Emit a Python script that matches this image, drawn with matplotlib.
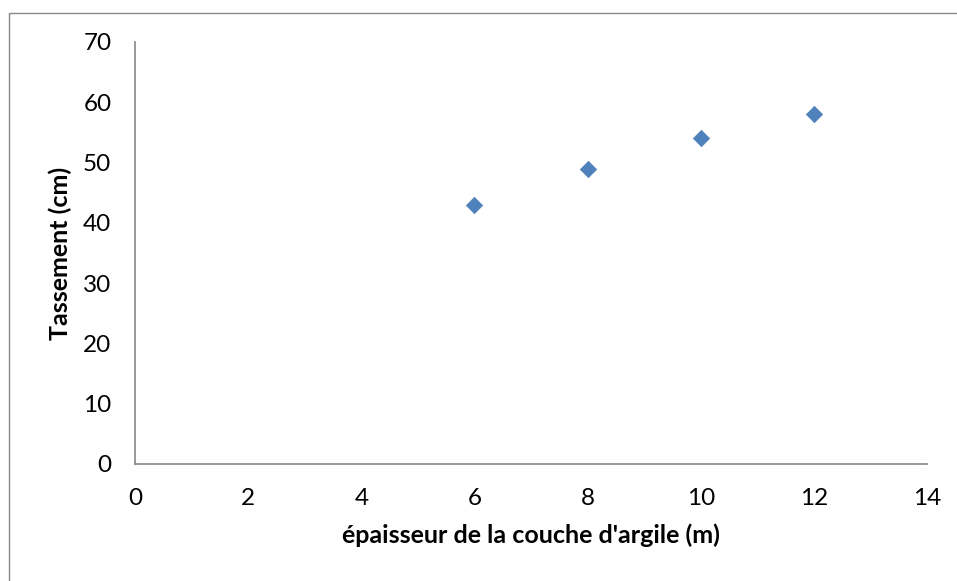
import matplotlib
matplotlib.use("Agg")
import matplotlib.pyplot as plt
from matplotlib.patches import Rectangle

epaisseur = [6, 8, 10, 12]
tassement = [43, 49, 54, 58]
x_ticks = [0, 2, 4, 6, 8, 10, 12, 14]
y_ticks = [0, 10, 20, 30, 40, 50, 60, 70]

plt.rcParams['font.family'] = ['Lato', 'DejaVu Sans']

fig = plt.figure(figsize=(9.57, 5.81), dpi=100)
fig.patches.append(Rectangle((9/957, -0.1), 1.2, (581-13)/581 + 0.1, transform=fig.transFigure,
                             fill=False, edgecolor='#888888', linewidth=1.0))
ax = fig.add_axes([135/957, (581-464)/581, (927-135)/957, (464-42)/581])
ax.scatter(epaisseur, tassement, marker='D', s=70, color='#4F81BD', edgecolors='#4F81BD', linewidths=0.5, zorder=3)
ax.set_xlim(0, 14)
ax.set_ylim(0, 70)
ax.set_xticks(x_ticks)
ax.set_yticks(y_ticks)
ax.tick_params(length=0, labelsize=17.5)
ax.tick_params(axis='x', pad=17)
ax.tick_params(axis='y', pad=17)
for s in ['top', 'right']:
    ax.spines[s].set_visible(False)
for s in ['left', 'bottom']:
    ax.spines[s].set_color('#888888')
    ax.spines[s].set_linewidth(1.2)
ax.set_xlabel("épaisseur de la couche d'argile (m)", fontsize=18, fontweight='bold', labelpad=11)
ax.set_ylabel("Tassement (cm)", fontsize=18, fontweight='bold', labelpad=8)
fig.savefig("out.png", dpi=100)
